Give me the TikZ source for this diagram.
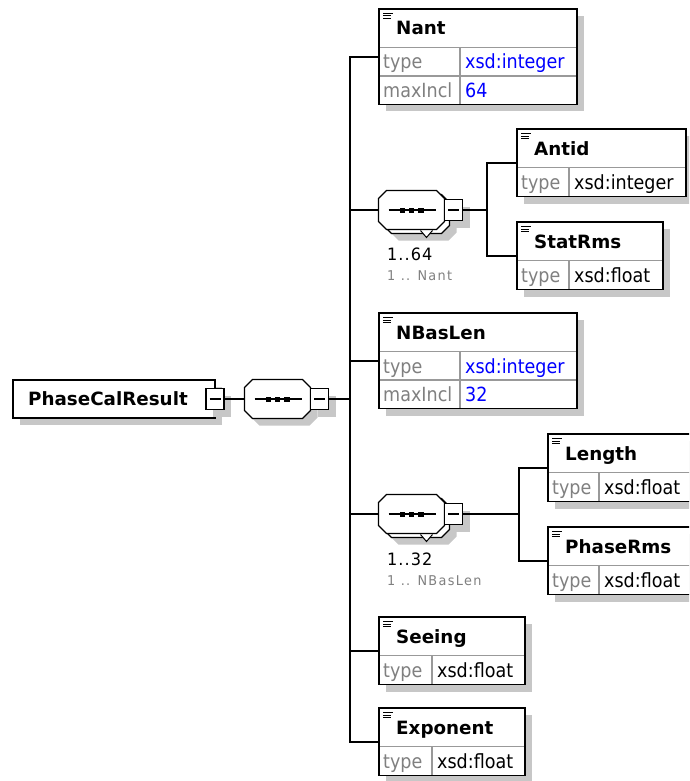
\documentclass[tikz,border=0pt]{standalone}
\usepackage{fontspec}
\usetikzlibrary{shadows}
\newfontfamily\namefont{DejaVu Sans}
\newfontfamily\valfont[FakeStretch=0.9]{DejaVu Sans}
\newfontfamily\occfont[FakeStretch=0.95,LetterSpace=6]{DejaVu Sans}
\newfontfamily\occsubfont[FakeStretch=0.95,LetterSpace=10]{DejaVu Sans}
\definecolor{shadowgray}{gray}{0.78}
\definecolor{labelgray}{gray}{0.5}
\definecolor{linegray}{gray}{0.6}
\definecolor{valblue}{rgb}{0,0,1}
\tikzset{
  ebox/.style={draw=black, line width=1.5pt, fill=white, inner sep=0pt, outer sep=0pt,
    drop shadow={shadow xshift=7pt, shadow yshift=-7pt, fill=shadowgray, opacity=1}},
  rowline/.style={draw=linegray, line width=1.1pt},
  iconline/.style={draw=black, line width=1pt},
  titletext/.style={anchor=base west, inner sep=0pt, font=\namefont\bfseries\fontsize{18.3}{21}\selectfont},
  labeltext/.style={anchor=base west, inner sep=0pt, text=labelgray, font=\valfont\fontsize{19.5}{22}\selectfont},
  valtext/.style={anchor=base west, inner sep=0pt, font=\valfont\fontsize{19.5}{22}\selectfont},
  occtext/.style={anchor=base west, inner sep=0pt, font=\occfont\fontsize{17}{19}\selectfont},
  occsub/.style={anchor=base west, inner sep=0pt, text=labelgray, font=\occsubfont\fontsize{13.5}{15}\selectfont},
  conn/.style={draw=black, line width=1.6pt},
  minusbox/.style={draw=black, line width=1.3pt, fill=white, minimum width=18pt, minimum height=21pt,
    inner sep=0pt, outer sep=0pt,
    drop shadow={shadow xshift=7pt, shadow yshift=-7pt, fill=shadowgray, opacity=1}},
  seqnode/.style={minimum width=66pt, minimum height=39pt, inner sep=0pt, outer sep=0pt},
  seqline/.style={draw=black, line width=1.3pt, fill=white},
  shadowfill/.style={fill=shadowgray},
}
\newcommand\elemicon[2]{%
  \draw[iconline] (#1+4,#2+4.5) -- (#1+14,#2+4.5) (#1+4,#2+7) -- (#1+12,#2+7) (#1+4,#2+9.5) -- (#1+12,#2+9.5);}
% id, x, y, width, divider, title, value, colour
\newcommand\elemone[8]{%
  \node[ebox, minimum width=#4pt, minimum height=67.5pt, anchor=north west] (#1) at (#2,#3) {};
  \draw[rowline] (#2+0.75,#3+38.5) -- (#2+#4-0.75,#3+38.5);
  \draw[rowline] (#2+#5,#3+38.5) -- (#2+#5,#3+66.75);
  \elemicon{#2}{#3}
  \node[titletext] (#1-name) at (#2+17,#3+26) {#6};
  \node[labeltext] (#1-key) at (#2+4,#3+60) {type};
  \node[valtext, text=#8] (#1-val) at (#2+#5+5,#3+60) {#7};
}
% id, x, y, width, divider, title, value, key2, value2
\newcommand\elemtwo[9]{%
  \node[ebox, minimum width=#4pt, minimum height=95.5pt, anchor=north west] (#1) at (#2,#3) {};
  \draw[rowline] (#2+0.75,#3+38.5) -- (#2+#4-0.75,#3+38.5);
  \draw[rowline] (#2+0.75,#3+67) -- (#2+#4-0.75,#3+67);
  \draw[rowline] (#2+#5,#3+38.5) -- (#2+#5,#3+94.75);
  \elemicon{#2}{#3}
  \node[titletext] (#1-name) at (#2+17,#3+26) {#6};
  \node[labeltext] (#1-key) at (#2+4,#3+60) {type};
  \node[valtext, text=valblue] (#1-val) at (#2+#5+5,#3+60) {#7};
  \node[labeltext] (#1-key2) at (#2+4,#3+88.5) {#8};
  \node[valtext, text=valblue] (#1-val2) at (#2+#5+5,#3+88.5) {#9};
}
\newcommand\octagon[3]{%
  \path[#3] (#1-33,#2-11.5) -- (#1-25,#2-19.5) -- (#1+25,#2-19.5) -- (#1+33,#2-11.5)
    -- (#1+33,#2+11.5) -- (#1+25,#2+19.5) -- (#1-25,#2+19.5) -- (#1-33,#2+11.5) -- cycle;}
\newcommand\seqinner[2]{%
  \draw[line width=1.2pt] (#1-23,#2) -- (#1+24,#2);
  \fill (#1-12,#2-2.5) rectangle (#1-6.5,#2+2.5);
  \fill (#1-2.75,#2-2.5) rectangle (#1+2.75,#2+2.5);
  \fill (#1+6.5,#2-2.5) rectangle (#1+12,#2+2.5);}
\newcommand\minusline[1]{\draw[line width=1.2pt] ([xshift=3.5pt]#1.west) -- ([xshift=-3.5pt]#1.east);}
% id, cx, cy
\newcommand\seqmulti[3]{%
  \octagon{#2+12}{#3+11}{shadowfill}
  \octagon{#2+5}{#3+4}{seqline}
  \fill[white] (#2+9,#3+20.5) -- (#2+21,#3+20.5) -- (#2+15,#3+27.5) -- cycle;
  \draw[line width=1pt] (#2+9,#3+20.5) -- (#2+15,#3+27.5) -- (#2+21,#3+20.5);
  \octagon{#2}{#3}{seqline}
  \seqinner{#2}{#3}
  \node[seqnode] (#1) at (#2,#3) {};
  \node[minusbox] (#1-minus) at (#2+42,#3) {};
  \minusline{#1-minus}
}
\begin{document}
\begin{tikzpicture}[x=1pt, y=-1pt]
\useasboundingbox (0,0) rectangle (689,781);
\fill[white] (0,0) rectangle (689,781);
\clip (0,0) rectangle (689,781);

% root element
\node[ebox, minimum width=202pt, minimum height=38pt, anchor=north west] (root) at (13,380) {};
\node[titletext] (root-name) at (28,405) {PhaseCalResult};
\node[minusbox] (rootminus) at (215,399) {};
\minusline{rootminus}

% root sequence
\octagon{284.5}{406}{shadowfill}
\octagon{277.5}{399}{seqline}
\seqinner{277.5}{399}
\node[seqnode] (rootseq) at (277.5,399) {};
\node[minusbox] (rootseq-minus) at (319.5,399) {};
\minusline{rootseq-minus}

% children
\elemtwo{nant}{379}{9}{198}{81}{Nant}{xsd:integer}{maxIncl}{64}
\seqmulti{seqa}{411.5}{210}
\node[occtext] (seqa-occ) at (387,260) {1..64};
\node[occsub] (seqa-occsub) at (387,280) {1 .. Nant};
\elemone{antid}{517}{129}{169}{52}{Antid}{xsd:integer}{black}
\elemone{statrms}{517}{222}{146}{52}{StatRms}{xsd:float}{black}
\elemtwo{nbaslen}{379}{313}{198}{81}{NBasLen}{xsd:integer}{maxIncl}{32}
\seqmulti{seqb}{411.5}{514}
\node[occtext] (seqb-occ) at (387,565) {1..32};
\node[occsub] (seqb-occsub) at (387,585) {1 .. NBasLen};
\elemone{length}{548}{434}{145}{51}{Length}{xsd:float}{black}
\elemone{phaserms}{548}{527}{145}{51}{PhaseRms}{xsd:float}{black}
\elemone{seeing}{379}{617}{146}{53}{Seeing}{xsd:float}{black}
\elemone{exponent}{379}{708}{146}{53}{Exponent}{xsd:float}{black}

% connectors
\coordinate (bus) at (350,399);
\coordinate (ja) at (487,210);
\coordinate (jb) at (519,514);
\draw[conn] (rootminus.east) -- (rootseq.west);
\draw[conn] (rootseq-minus.east) -- (bus);
\draw[conn] (nant.west) -| (bus);
\draw[conn] (seqa.west) -| (bus);
\draw[conn] (nbaslen.west) -| (bus);
\draw[conn] (seqb.west) -| (bus);
\draw[conn] (seeing.west) -| (bus);
\draw[conn] (exponent.west) -| (bus);
\draw[conn] (seqa-minus.east) -- (ja);
\draw[conn] (antid.west) -| (ja);
\draw[conn] (statrms.west) -| (ja);
\draw[conn] (seqb-minus.east) -- (jb);
\draw[conn] (length.west) -| (jb);
\draw[conn] (phaserms.west) -| (jb);
\end{tikzpicture}
\end{document}
